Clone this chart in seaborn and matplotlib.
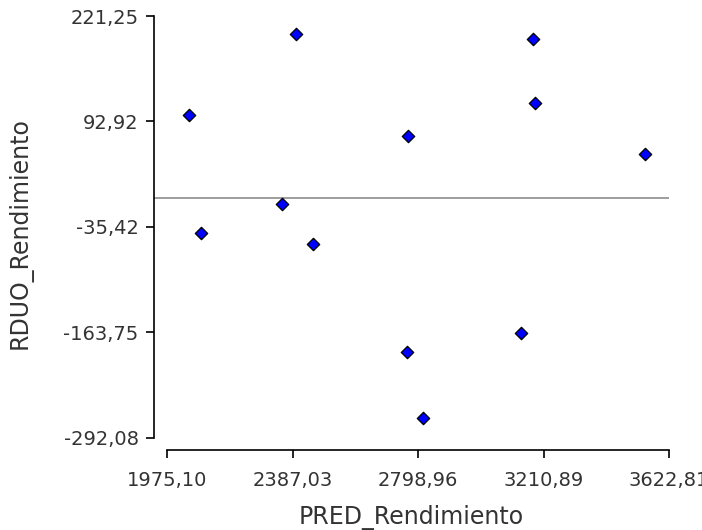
import matplotlib
matplotlib.use("Agg")
import matplotlib.pyplot as plt
import seaborn as sns
import pandas as pd

# Data
pred = [2046.3, 2399.5, 2085.7, 2352.6, 2453.3, 3175.4, 3183.0, 2767.1, 3544.0, 2761.8, 3136.0, 2816.3]
rduo = [100.5, 199.0, -43.1, -7.8, -55.7, 193.6, 115.8, 75.3, 53.0, -187.1, -164.3, -268.1]

x_ticks = [1975.10, 2387.03, 2798.96, 3210.89, 3622.81]
x_tick_labels = ["1975,10", "2387,03", "2798,96", "3210,89", "3622,81"]
y_ticks = [-292.08, -163.75, -35.42, 92.92, 221.25]
y_tick_labels = ["-292,08", "-163,75", "-35,42", "92,92", "221,25"]

df = pd.DataFrame({"PRED_Rendimiento": pred, "RDUO_Rendimiento": rduo})

sns.set_style("ticks")
plt.rcParams["font.family"] = ["DejaVu Sans"]

fig = plt.figure(figsize=(7.02, 5.30), dpi=100)
ax = fig.add_axes([154 / 702, 1 - 450 / 530, (669 - 154) / 702, (450 - 16) / 530])

ax.axhline(0, color="#8c8c8c", lw=1.2, zorder=1)
sns.scatterplot(data=df, x="PRED_Rendimiento", y="RDUO_Rendimiento", ax=ax,
                marker="D", s=40, color="#0000ff", edgecolor="black",
                linewidth=0.9, zorder=3)

ax.set_xlim(1932.4, 3622.81)
ax.set_ylim(-306.7, 221.25)
ax.set_xticks(x_ticks)
ax.set_xticklabels(x_tick_labels)
ax.set_yticks(y_ticks)
ax.set_yticklabels(y_tick_labels)

for side in ["top", "right"]:
    ax.spines[side].set_visible(False)
ax.spines["left"].set_bounds(y_ticks[0], y_ticks[-1])
ax.spines["bottom"].set_bounds(x_ticks[0], x_ticks[-1])
for side in ["left", "bottom"]:
    ax.spines[side].set_color("black")
    ax.spines[side].set_linewidth(1.2)

ax.tick_params(axis="both", length=6, width=1.2, color="black",
               labelsize=14, labelcolor="#333333")
ax.tick_params(axis="x", pad=9)
ax.tick_params(axis="y", pad=5)

ax.set_xlabel("PRED_Rendimiento", fontsize=17, color="#333333", labelpad=11)
ax.set_ylabel("RDUO_Rendimiento", fontsize=17, color="#333333", labelpad=22)

fig.savefig("out.png", dpi=100)
